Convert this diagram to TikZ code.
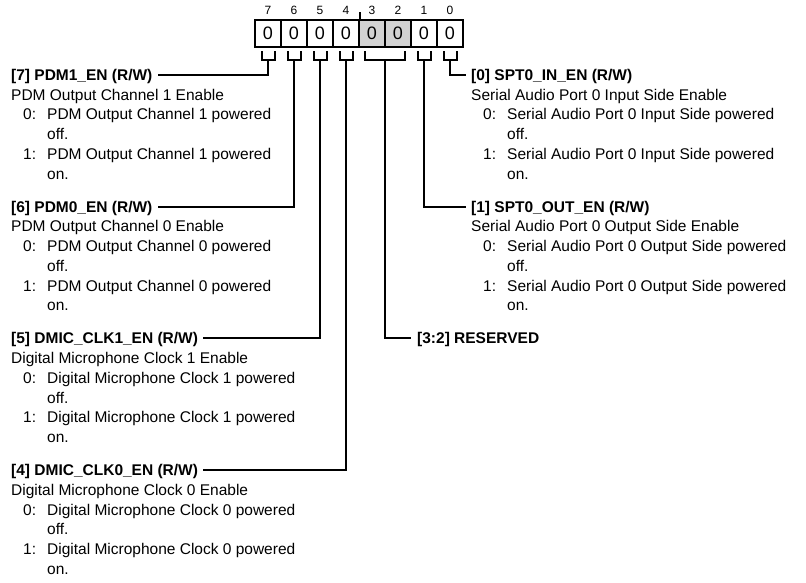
\documentclass[tikz,border=0pt]{standalone}
\usepackage{fontspec}
\setmainfont{Liberation Sans}
\newcommand\regblock[6]{%
  \node[hdr] (#1) at (#2,#3) {#4};
  \node[txt] (#1d) at (#2,#3+19.7) {#5};
  \node[txt] (#1n0) at (#2+12,#3+39.4) {0:};
  \node[txt] (#1t0) at (#2+36,#3+39.4) {#6};
  \node[txt] (#1c0) at (#2+36,#3+59.1) {off.};
  \node[txt] (#1n1) at (#2+12,#3+78.8) {1:};
  \node[txt] (#1t1) at (#2+36,#3+78.8) {#6};
  \node[txt] (#1c1) at (#2+36,#3+98.5) {on.};
}
\begin{document}
\begin{tikzpicture}[x=1pt,y=-1pt,
  conn/.style={line width=2pt},
  txt/.style={anchor=base west, inner sep=0pt, font=\fontsize{15.5}{18}\selectfont},
  hdr/.style={anchor=base west, inner sep=0pt, font=\fontsize{15.5}{18}\selectfont\bfseries, text height=11.1pt, text depth=0pt},
  cell/.style={draw, line width=2.2pt, minimum width=26pt, minimum height=27pt, inner sep=0pt, font=\fontsize{18}{20}\selectfont},
  bitno/.style={inner sep=0pt, font=\fontsize{12}{14}\selectfont}]
\useasboundingbox (0,0) rectangle (806,582);

% register cells
\node[cell] (c7) at (268,33.5) {0};
\node[cell] (c6) at (294,33.5) {0};
\node[cell] (c5) at (320,33.5) {0};
\node[cell] (c4) at (346,33.5) {0};
\node[cell, fill=gray!35] (c3) at (372,33.5) {0};
\node[cell, fill=gray!35] (c2) at (398,33.5) {0};
\node[cell] (c1) at (424,33.5) {0};
\node[cell] (c0) at (450,33.5) {0};

% bit numbers
\foreach \b/\cx in {7/268,6/294,5/320,4/346,3/372,2/398,1/424,0/450}
  \node[bitno] (n\b) at (\cx,10.3) {\b};

% nibble tick
\draw[line width=1.4pt] (c4.north east) -- ++(0,-7);

% brackets
\foreach \b/\cx in {7/268,6/294,5/320,4/346,1/424,0/450}{
  \draw[conn] (\cx-6.5,51) -- (\cx-6.5,59.5) -- (\cx+6.5,59.5) -- (\cx+6.5,51);
  \coordinate (k\b) at (\cx,59.5);
}
\draw[conn] (365,51) -- (365,59.5) -- (405,59.5) -- (405,51);
\coordinate (k32) at (385,59.5);

% left column
\regblock{h7}{11}{80.5}{[7] PDM1\_EN (R/W)}{PDM Output Channel 1 Enable}{PDM Output Channel 1 powered}
\regblock{h6}{11}{212.2}{[6] PDM0\_EN (R/W)}{PDM Output Channel 0 Enable}{PDM Output Channel 0 powered}
\regblock{h5}{11}{343.9}{[5] DMIC\_CLK1\_EN (R/W)}{Digital Microphone Clock 1 Enable}{Digital Microphone Clock 1 powered}
\regblock{h4}{11}{475.6}{[4] DMIC\_CLK0\_EN (R/W)}{Digital Microphone Clock 0 Enable}{Digital Microphone Clock 0 powered}

% right column
\regblock{h0}{471}{80.5}{[0] SPT0\_IN\_EN (R/W)}{Serial Audio Port 0 Input Side Enable}{Serial Audio Port 0 Input Side powered}
\regblock{h1}{471}{212.2}{[1] SPT0\_OUT\_EN (R/W)}{Serial Audio Port 0 Output Side Enable}{Serial Audio Port 0 Output Side powered}
\node[hdr] (h32) at (417,343.9) {[3:2] RESERVED};

% connectors
\draw[conn, shorten >=5pt] (k7) |- (h7.east);
\draw[conn, shorten >=5pt] (k6) |- (h6.east);
\draw[conn, shorten >=5pt] (k5) |- (h5.east);
\draw[conn, shorten >=5pt] (k4) |- (h4.east);
\draw[conn, shorten >=5pt] (k0) |- (h0.west);
\draw[conn, shorten >=5pt] (k1) |- (h1.west);
\draw[conn, shorten >=6pt] (k32) |- (h32.west);
\end{tikzpicture}
\end{document}
